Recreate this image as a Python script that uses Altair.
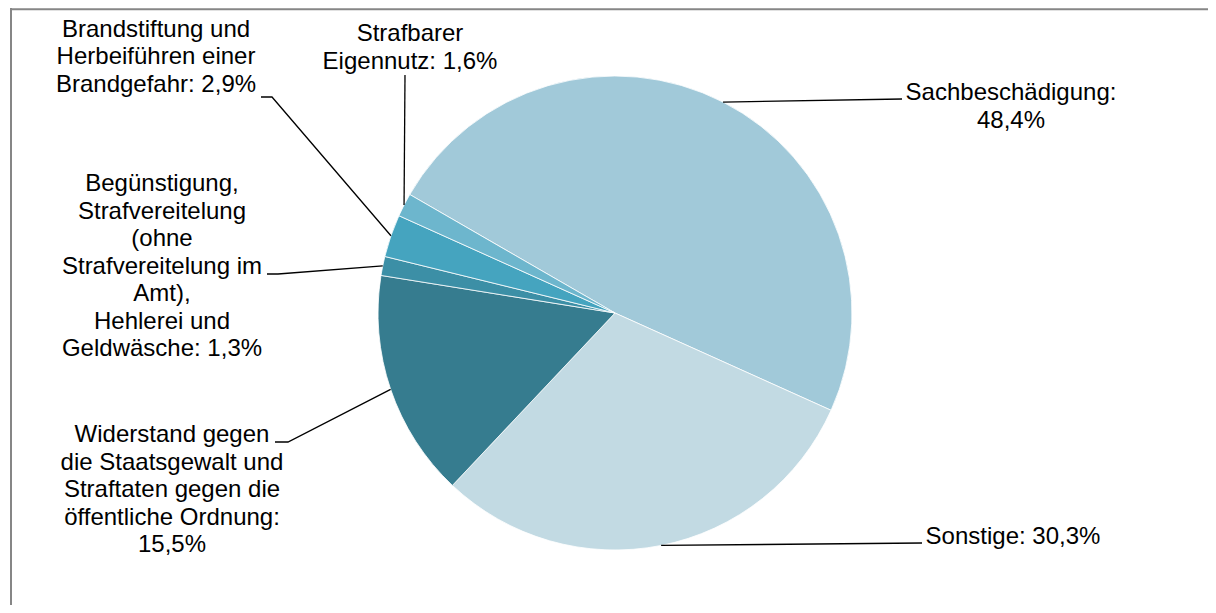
import math
import altair as alt
import pandas as pd

# ---- data ----
CATEGORIES = [
    "Sachbeschädigung",
    "Sonstige",
    "Widerstand gegen die Staatsgewalt und Straftaten gegen die öffentliche Ordnung",
    "Begünstigung, Strafvereitelung (ohne Strafvereitelung im Amt), Hehlerei und Geldwäsche",
    "Brandstiftung und Herbeiführen einer Brandgefahr",
    "Strafbarer Eigennutz",
]
SHARES = [48.4, 30.3, 15.5, 1.3, 2.9, 1.6]
WRAPPED = [
    "Sachbeschädigung",
    "Sonstige",
    "Widerstand gegen\ndie Staatsgewalt und\nStraftaten gegen die\nöffentliche Ordnung",
    "Begünstigung,\nStrafvereitelung\n(ohne\nStrafvereitelung im\nAmt),\nHehlerei und\nGeldwäsche",
    "Brandstiftung und\nHerbeiführen einer\nBrandgefahr",
    "Strafbarer\nEigennutz",
]
VALUE_SEP = ["\n", " ", "\n", " ", " ", " "]
COLORS = ["#A1C9D9", "#C2DAE3", "#367C8F", "#3C8FA6", "#45A4BF", "#6DB6CD"]

# ---- layout (page pixels) ----
CX, CY, R = 615, 313, 237
START_DEG = 300.0
LABEL_POS = [(1011, 100), (1013, 544), (172, 442), (162, 191), (156, 36.5), (410, 41)]
LEADER_BENDS = [
    [(902, 99)],
    [(922, 543)],
    [(288, 442), (275, 442)],
    [(278, 274), (267, 274)],
    [(272, 97), (261, 97)],
    [(405, 75)],
]
W, H = 1200, 597
FONT = "Liberation Sans"

XS = alt.Scale(domain=[8, 8 + W], nice=False, zero=False)
YS = alt.Scale(domain=[8, 8 + H], nice=False, zero=False, reverse=True)

def fmt(v):
    return f"{v:.1f}".replace(".", ",") + "%"

slices = pd.DataFrame({
    "category": CATEGORIES,
    "share": SHARES,
    "order": list(range(len(SHARES))),
    "cx": [CX] * len(SHARES),
    "cy": [CY] * len(SHARES),
})

# leader lines: from slice edge at mid-angle to label
total = sum(SHARES)
rows = []
cum = 0.0
for i, v in enumerate(SHARES):
    mid = math.radians(START_DEG) + (cum + v / 2) / total * 2 * math.pi
    cum += v
    ex, ey = CX + R * math.sin(mid), CY - R * math.cos(mid)
    pts = [(ex, ey)] + LEADER_BENDS[i]
    for k, (px, py) in enumerate(pts):
        rows.append({"category": CATEGORIES[i], "pt": k, "x": px, "y": py})
leaders = pd.DataFrame(rows)

labels = pd.DataFrame({
    "category": CATEGORIES,
    "text": [WRAPPED[i] + ":" + VALUE_SEP[i] + fmt(SHARES[i]) for i in range(len(SHARES))],
    "x": [p[0] for p in LABEL_POS],
    "y": [p[1] for p in LABEL_POS],
})

start = math.radians(START_DEG)
arcs = alt.Chart(slices).mark_arc(stroke="white", strokeWidth=0.8, radius=R).encode(
    theta=alt.Theta("share:Q", stack=True, scale=alt.Scale(range=[start, start + 2 * math.pi])),
    order=alt.Order("order:Q"),
    color=alt.Color("category:N", scale=alt.Scale(domain=CATEGORIES, range=COLORS), legend=None),
    x=alt.X("cx:Q", scale=XS, axis=None),
    y=alt.Y("cy:Q", scale=YS, axis=None),
)

lines = alt.Chart(leaders).mark_line(color="black", strokeWidth=1.3).encode(
    x=alt.X("x:Q", scale=XS, axis=None),
    y=alt.Y("y:Q", scale=YS, axis=None),
    detail="category:N",
    order=alt.Order("pt:Q"),
)

texts = alt.Chart(labels).mark_text(
    align="center", baseline="alphabetic", lineBreak="\n", lineHeight=27.5,
    font=FONT, fontSize=24, color="black",
).encode(
    x=alt.X("x:Q", scale=XS, axis=None),
    y=alt.Y("y:Q", scale=YS, axis=None),
    text="text:N",
)

frame_data = alt.Data(values=[{"k": 1}])
frame_left = alt.Chart(frame_data).mark_rule(color="#868686", strokeWidth=2).encode(
    x=alt.value(3), y=alt.value(0), y2=alt.value(H)
)
frame_top = alt.Chart(frame_data).mark_rule(color="#868686", strokeWidth=2).encode(
    x=alt.value(2), x2=alt.value(W), y=alt.value(1.2)
)

chart = alt.layer(arcs, lines, texts, frame_left, frame_top).properties(
    width=W, height=H, autosize=alt.AutoSizeParams(type="none"), padding=0,
    background="white",
).configure_view(stroke=None)

chart.save("out.html", embed_options={"renderer": "svg", "actions": False})
